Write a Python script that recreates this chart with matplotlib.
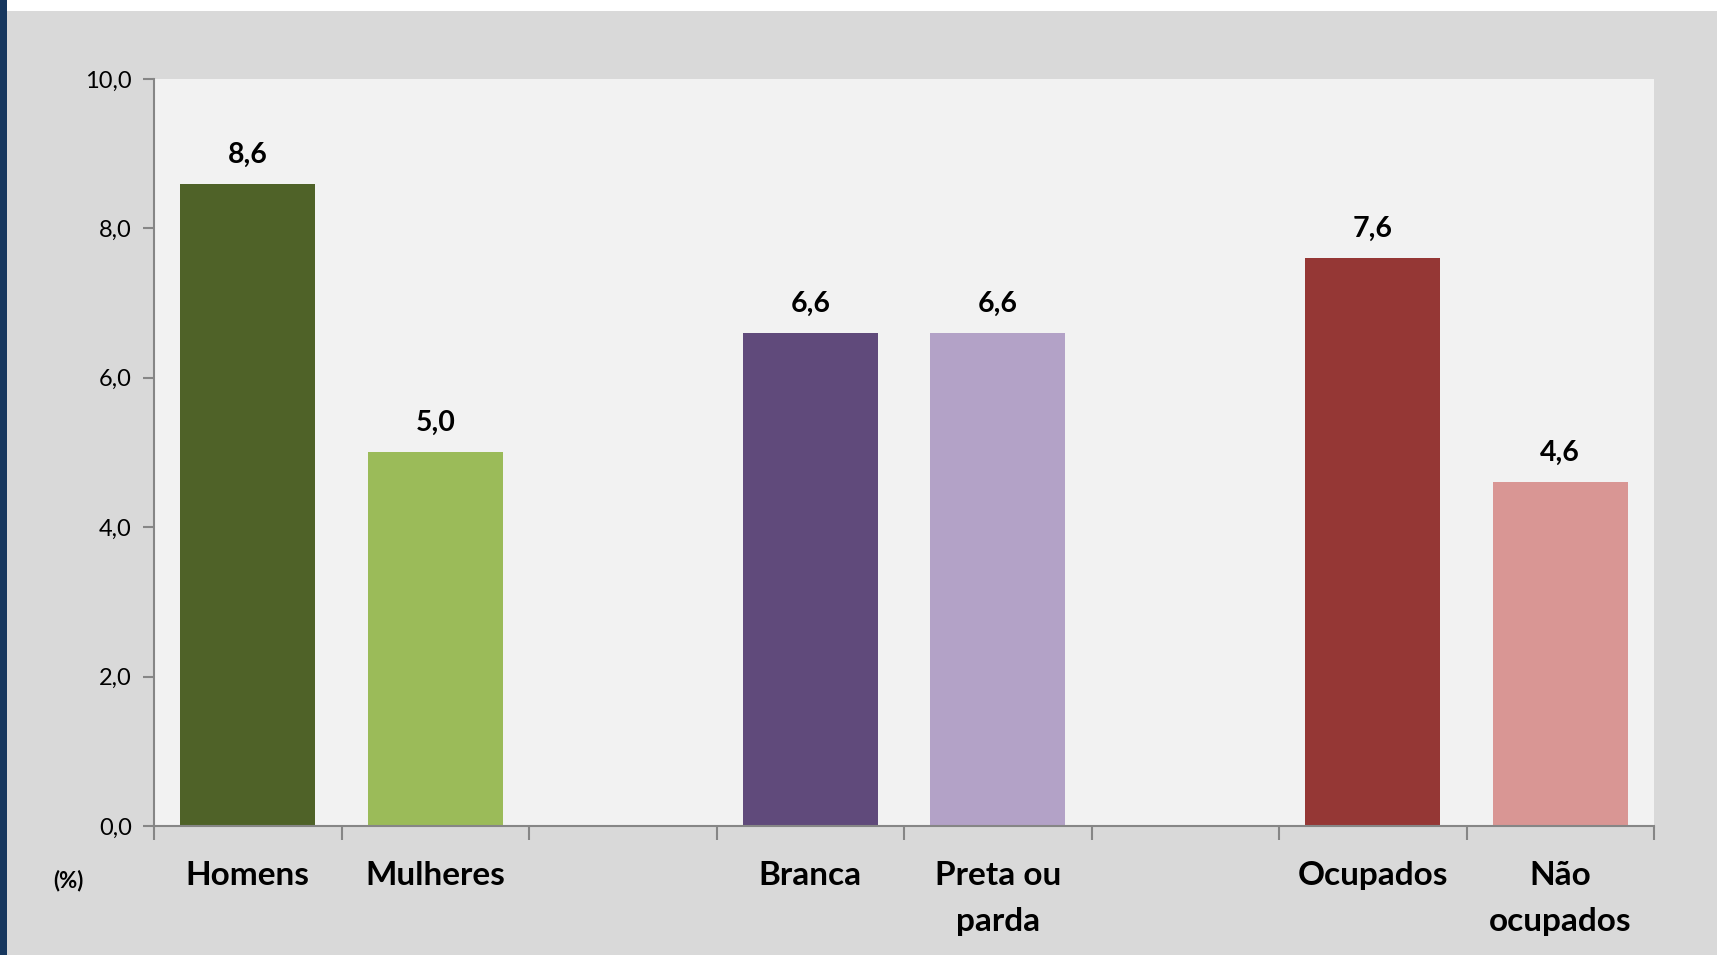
import numpy as np
import matplotlib.pyplot as plt
from matplotlib.patches import Rectangle

plt.rcParams['font.family'] = ['Lato', 'DejaVu Sans']

categorias = ['Homens', 'Mulheres', '', 'Branca', 'Preta ou\nparda', '', 'Ocupados', 'Não\nocupados']
valores = [8.6, 5.0, None, 6.6, 6.6, None, 7.6, 4.6]
cores = ['#4F6228', '#9BBB59', None, '#604A7B', '#B3A2C7', None, '#953735', '#D99694']
yticks = [0, 2, 4, 6, 8, 10]


def fmt(v):
    return '{:.1f}'.format(v).replace('.', ',')


fig = plt.figure(figsize=(17.17, 9.55), dpi=100, facecolor='#D9D9D9')
# white strip on top and blue strip on left
fig.patches.append(Rectangle((0, 1 - 11/955), 1, 11/955, transform=fig.transFigure,
                             facecolor='white', edgecolor='none', zorder=0))
fig.patches.append(Rectangle((0, 0), 7/1717, 1, transform=fig.transFigure,
                             facecolor='#17375E', edgecolor='none', zorder=1))

ax = fig.add_axes([154/1717, 1 - 826/955, 1500/1717, 747/955])
ax.set_facecolor('#F2F2F2')

x = np.arange(len(categorias))
for i, (v, c) in enumerate(zip(valores, cores)):
    if v is None:
        continue
    ax.bar(x[i], v, width=0.72, color=c, zorder=2)
    ax.annotate(fmt(v), (x[i], v), xytext=(0, 21), textcoords='offset points',
                ha='center', va='center', fontsize=20.5, fontweight='bold')

ax.set_xlim(-0.5, len(categorias) - 0.5)
ax.set_ylim(0, 10)
ax.set_yticks(yticks)
ax.set_yticklabels([fmt(t) for t in yticks], fontsize=17)

ax.set_xticks(np.arange(len(categorias) + 1) - 0.5)
ax.set_xticklabels([])
ax.set_xticks(x, minor=True)
ax.set_xticklabels(categorias, minor=True, fontsize=24, fontweight='bold',
                   linespacing=1.7, va='top')
ax.tick_params(axis='x', which='minor', length=0, pad=25.5)
ax.tick_params(axis='x', which='major', length=10, color='#868686', width=1.5)
ax.tick_params(axis='y', length=8, color='#868686', width=1.5, pad=8)

for s in ['top', 'right']:
    ax.spines[s].set_visible(False)
for s in ['left', 'bottom']:
    ax.spines[s].set_color('#868686')
    ax.spines[s].set_linewidth(1.5)

fig.text(68/1717, 1 - 881/955, '(%)', fontsize=16, fontweight='bold',
         ha='center', va='center')

fig.savefig('out.png', dpi=100, facecolor=fig.get_facecolor())
